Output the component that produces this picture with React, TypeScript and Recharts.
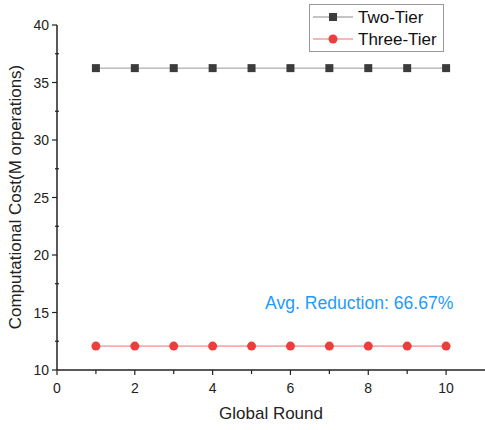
import React from 'react';
import { LineChart, Line, XAxis, YAxis } from 'recharts';

const rounds = [1, 2, 3, 4, 5, 6, 7, 8, 9, 10];
const twoTier = [36.25, 36.25, 36.25, 36.25, 36.25, 36.25, 36.25, 36.25, 36.25, 36.25];
const threeTier = [12.08, 12.08, 12.08, 12.08, 12.08, 12.08, 12.08, 12.08, 12.08, 12.08];
const xTicks = [0, 1, 2, 3, 4, 5, 6, 7, 8, 9, 10];
const yTicks = [10, 12.5, 15, 17.5, 20, 22.5, 25, 27.5, 30, 32.5, 35, 37.5, 40];

const data = rounds.map((r, i) => ({ round: r, two: twoTier[i], three: threeTier[i] }));

const FONT = '"Liberation Sans", Arial, sans-serif';
const INK = '#222';

// major ticks labelled, minor ticks short and unlabelled
const XTick = ({ x, y, payload }: any) => {
  const major = payload.value % 2 === 0;
  return (
    <g>
      <line x1={x} x2={x} y1={y} y2={y + (major ? 5 : 4)} stroke={INK} strokeWidth={1.2} />
      {major && (
        <text x={x} y={y + 23} textAnchor="middle" fontSize={14} fill={INK} fontFamily={FONT}>
          {payload.value}
        </text>
      )}
    </g>
  );
};

const YTick = ({ x, y, payload }: any) => {
  const major = payload.value % 5 === 0;
  return (
    <g>
      <line x1={x - (major ? 5 : 2)} x2={major ? x : x + 2} y1={y} y2={y} stroke={INK} strokeWidth={1.2} />
      {major && (
        <text x={x - 8} y={y + 5} textAnchor="end" fontSize={14} fill={INK} fontFamily={FONT}>
          {payload.value}
        </text>
      )}
    </g>
  );
};

const SquareDot = ({ cx, cy, index }: any) => (
  <rect key={'s' + index} x={cx - 4} y={cy - 4} width={8} height={8} fill="#3c3c3c" />
);

const CircleDot = ({ cx, cy, index }: any) => (
  <circle key={'c' + index} cx={cx} cy={cy} r={4.5} fill="#f03c3c" />
);

const LegendBox = () => (
  <svg width={136} height={49} style={{ display: 'block' }}>
    <rect x={0.5} y={0.5} width={134} height={47} fill="#fff" stroke="#999" />
    <line x1={4} x2={44} y1={13} y2={13} stroke="#888" />
    <rect x={20} y={9} width={8} height={8} fill="#3c3c3c" />
    <text x={49} y={19} fontSize={17} fill="#111" fontFamily={FONT}>Two-Tier</text>
    <line x1={4} x2={44} y1={35} y2={35} stroke="#f07070" />
    <circle cx={24} cy={35} r={4.5} fill="#f03c3c" />
    <text x={49} y={41} fontSize={17} fill="#111" fontFamily={FONT}>Three-Tier</text>
  </svg>
);

export default function App() {
  return (
    <div style={{ position: 'absolute', left: 0, top: 0, width: 485, height: 430, background: '#fff' }}>
      <LineChart width={485} height={430} data={data} margin={{ top: 25, right: 0, bottom: 30, left: 17 }}>
        <XAxis
          dataKey="round"
          type="number"
          domain={[0, 11]}
          ticks={xTicks}
          interval={0}
          height={30}
          tickSize={0}
          tickMargin={0}
          tick={<XTick />}
          tickLine={false}
          axisLine={{ stroke: INK, strokeWidth: 1.5 }}
          label={{
            content: () => (
              <text x={271} y={419} textAnchor="middle" fontSize={17} fill={INK} fontFamily={FONT}>
                Global Round
              </text>
            ),
          }}
        />
        <YAxis
          type="number"
          domain={[10, 40]}
          ticks={yTicks}
          interval={0}
          width={40}
          tickSize={0}
          tickMargin={0}
          tick={<YTick />}
          tickLine={false}
          axisLine={{ stroke: INK, strokeWidth: 1.5 }}
          label={{
            content: () => (
              <text
                x={21}
                y={197}
                transform="rotate(-90 21 197)"
                textAnchor="middle"
                fontSize={17}
                fill={INK}
                fontFamily={FONT}
              >
                Computational Cost(M orperations)
              </text>
            ),
          }}
        />
        <Line
          dataKey="two"
          name="Two-Tier"
          stroke="#9a9a9a"
          strokeWidth={1}
          dot={<SquareDot />}
          activeDot={false}
          isAnimationActive={false}
        />
        <Line
          dataKey="three"
          name="Three-Tier"
          stroke="#f07070"
          strokeWidth={1}
          dot={<CircleDot />}
          activeDot={false}
          isAnimationActive={false}
        />
      </LineChart>
      <div style={{ position: 'absolute', left: 309, top: 4 }}>
        <LegendBox />
      </div>
      <div
        style={{
          position: 'absolute',
          left: 265,
          top: 293,
          fontSize: 17.6,
          fontFamily: FONT,
          color: '#1e9bff',
          whiteSpace: 'nowrap',
        }}
      >
        Avg. Reduction: 66.67%
      </div>
    </div>
  );
}
